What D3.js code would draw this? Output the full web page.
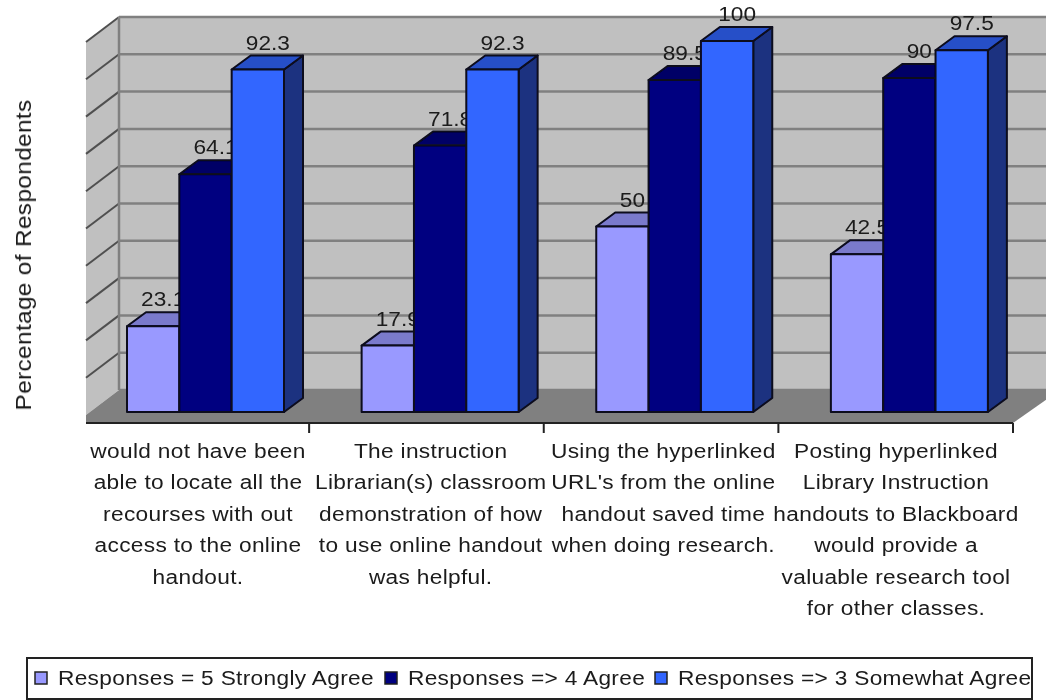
<!DOCTYPE html>
<html lang="en">
<head>
    <meta charset="UTF-8">
    <title>Percentage of Respondents</title>
    <script src="https://cdn.jsdelivr.net/npm/d3@7"></script>
    <style>
        body { margin: 0; background: #fff; }
        text { font-family: "Liberation Sans", Arial, sans-serif; fill: #1a1a1a; }
    </style>
</head>
<body>
<script type="application/javascript">

    let categories = [
        ["would not have been", "able to locate all the", "recourses with out", "access to the online", "handout."],
        ["The instruction", "Librarian(s) classroom", "demonstration of how", "to use online handout", "was helpful."],
        ["Using the hyperlinked", "URL's from the online", "handout saved time", "when doing research."],
        ["Posting hyperlinked", "Library Instruction", "handouts to Blackboard", "would provide a", "valuable research tool", "for other classes."]
    ];
    let seriesNames = ["Responses = 5 Strongly Agree", "Responses => 4 Agree", "Responses => 3 Somewhat Agree"];
    let strongly = ["23.1", "17.9", "50", "42.5"];
    let agree = ["64.1", "71.8", "89.5", "90"];
    let somewhat = ["92.3", "92.3", "100", "97.5"];
    let seriesValues = [strongly, agree, somewhat];

    let w = 1046, h = 700;
    let depthX = 19, depthY = 14;      // bar depth
    let wallX = 33, wallY = 25;        // chart depth

    let fronts = ["#9999ff", "#000080", "#3366ff"];
    let tops = ["#7a7acc", "#000066", "#2850c8"];
    let sides = ["#4d4d80", "#000040", "#1a3380"];

    //Set up scales
    let xGroup = d3.scaleBand()
        .domain(d3.range(categories.length))
        .range([74.5, 1013]);
    let xBar = d3.scaleBand()
        .domain(d3.range(seriesNames.length))
        .range([52.5, 209.5]);
    let xLabel = d3.scalePoint()
        .domain(d3.range(categories.length))
        .range([198, 896]);
    let yFront = d3.scaleLinear().domain([0, 100]).range([412, 41]);
    let yBack = d3.scaleLinear().domain([0, 100]).range([390, 17]);

    let svg = d3.select("body")
        .append("svg")
        .attr("width", w)
        .attr("height", h)
        .style("display", "block");

    svg.append("defs").append("filter")
        .attr("id", "soft")
        .append("feGaussianBlur")
        .attr("stdDeviation", 0.6);

    let chart = svg.append("g").attr("filter", "url(#soft)");

    // walls
    let left = 119, right = 1060;
    chart.append("rect")
        .attr("x", left).attr("y", yBack(100))
        .attr("width", right - left).attr("height", yBack(0) - yBack(100))
        .attr("fill", "#c0c0c0");
    chart.append("polygon")
        .attr("points", [[left, yBack(100)], [left, yBack(0)], [left - wallX, yBack(0) + wallY], [left - wallX, yBack(100) + wallY]].join(" "))
        .attr("fill", "#c0c0c0");

    // floor
    chart.append("polygon")
        .attr("points", [[left, yBack(0)], [right, yBack(0)], [1013, 423], [86, 423], [86, yBack(0) + wallY]].join(" "))
        .attr("fill", "#808080");

    // gridlines
    let ticks = yBack.ticks(10);
    chart.selectAll("line.grid")
        .data(ticks)
        .enter()
        .append("line")
        .attr("x1", left).attr("x2", right)
        .attr("y1", function(d) { return yBack(d); })
        .attr("y2", function(d) { return yBack(d); })
        .attr("stroke", "#808080")
        .attr("stroke-width", 2.5);
    chart.selectAll("line.side")
        .data(ticks.slice(1))
        .enter()
        .append("line")
        .attr("x1", left).attr("x2", left - wallX)
        .attr("y1", function(d) { return yBack(d); })
        .attr("y2", function(d) { return yBack(d) + wallY; })
        .attr("stroke", "#505050")
        .attr("stroke-width", 2);
    chart.append("line")
        .attr("x1", left).attr("x2", left)
        .attr("y1", yBack(100)).attr("y2", yBack(0))
        .attr("stroke", "#808080")
        .attr("stroke-width", 2.5);

    // x axis line and ticks between the groups
    chart.append("line")
        .attr("x1", 86).attr("x2", 1013)
        .attr("y1", 423).attr("y2", 423)
        .attr("stroke", "#222").attr("stroke-width", 2);
    chart.selectAll("line.tick")
        .data(d3.range(categories.length))
        .enter()
        .append("line")
        .attr("x1", function(d) { return xGroup(d) + xGroup.step(); })
        .attr("x2", function(d) { return xGroup(d) + xGroup.step(); })
        .attr("y1", 423).attr("y2", 433)
        .attr("stroke", "#222").attr("stroke-width", 2);

    // bars, each label goes down before the next bar so the bar can cover it
    categories.forEach(function(c, g) {
        seriesValues.forEach(function(values, s) {
            let v = +values[g];
            let x0 = xGroup(g) + xBar(s);
            let x1 = x0 + xBar.bandwidth();
            let yt = yFront(v), yb = yFront(0);
            let bar = chart.append("g")
                .attr("stroke", "#0a0a1e")
                .attr("stroke-width", 2)
                .attr("stroke-linejoin", "round");
            bar.append("polygon")
                .attr("points", [[x1, yt], [x1 + depthX, yt - depthY], [x1 + depthX, yb - depthY], [x1, yb]].join(" "))
                .attr("fill", sides[s]);
            bar.append("polygon")
                .attr("points", [[x0, yt], [x0 + depthX, yt - depthY], [x1 + depthX, yt - depthY], [x1, yt]].join(" "))
                .attr("fill", tops[s]);
            bar.append("rect")
                .attr("x", x0).attr("y", yt)
                .attr("width", x1 - x0).attr("height", yb - yt)
                .attr("fill", fronts[s]);
            chart.append("text")
                .attr("transform", "translate(" + ((x0 + x1) / 2 + 10) + "," + (yt - 20) + ") scale(1.08,1)")
                .attr("text-anchor", "middle")
                .attr("font-size", 21)
                .text(values[g]);
        });
    });

    // category labels, the source text runs wider than the font so stretch it
    let labels = chart.selectAll("g.cat")
        .data(categories)
        .enter()
        .append("g")
        .attr("transform", function(d, i) {
            return "translate(" + xLabel(i) + ",0) scale(1.08,1)";
        });
    labels.selectAll("text")
        .data(function(d) { return d; })
        .enter()
        .append("text")
        .attr("y", function(d, i) { return 458 + i * 31.4; })
        .attr("text-anchor", "middle")
        .attr("font-size", 21)
        .attr("letter-spacing", 0.3)
        .text(function(d) { return d; });

    // y title
    chart.append("text")
        .attr("transform", "translate(31,255) rotate(-90) scale(1.11,1)")
        .attr("text-anchor", "middle")
        .attr("font-size", 22)
        .attr("letter-spacing", 0.3)
        .text("Percentage of Respondents");

    // legend
    let legendX = [35, 385, 655];
    chart.append("rect")
        .attr("x", 27).attr("y", 658)
        .attr("width", 1005).attr("height", 41)
        .attr("fill", "#fff")
        .attr("stroke", "#222").attr("stroke-width", 2);
    let legend = chart.selectAll("g.legend")
        .data(seriesNames)
        .enter()
        .append("g")
        .attr("transform", function(d, i) { return "translate(" + legendX[i] + ",678)"; });
    legend.append("rect")
        .attr("x", 0).attr("y", -6)
        .attr("width", 12).attr("height", 12)
        .attr("fill", function(d, i) { return fronts[i]; })
        .attr("stroke", "#222").attr("stroke-width", 1.5);
    legend.append("text")
        .attr("transform", "translate(23,7) scale(1.08,1)")
        .attr("font-size", 21)
        .attr("letter-spacing", 0.3)
        .text(function(d) { return d; });

</script>
</body>
</html>
